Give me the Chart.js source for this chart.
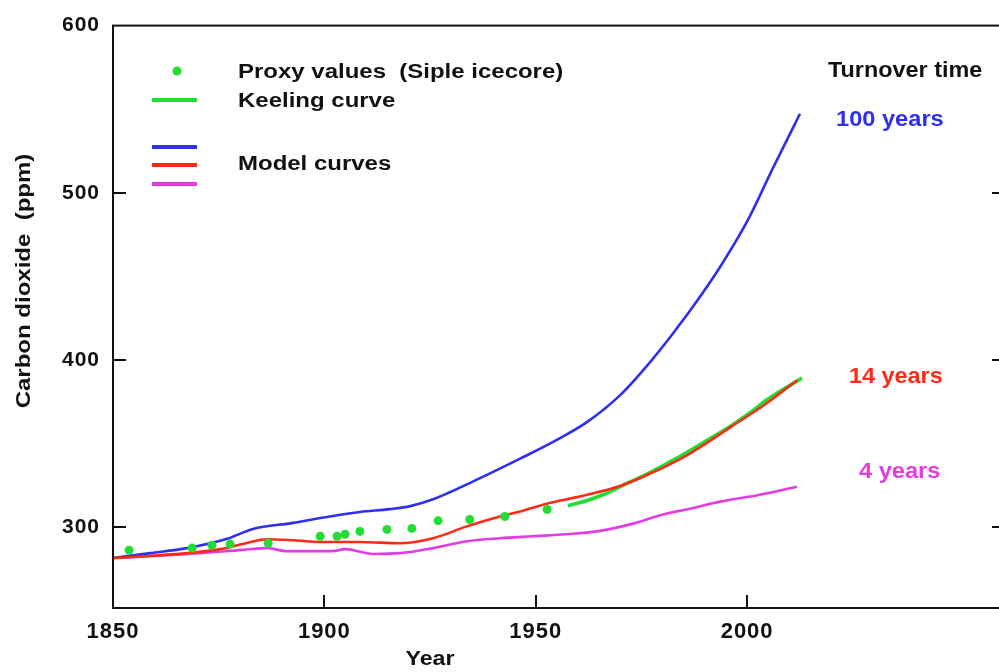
<!DOCTYPE html>
<html>
<head>
<meta charset="utf-8">
<title>Carbon dioxide and turnover time</title>
<script src="https://cdn.jsdelivr.net/npm/chart.js@4/dist/chart.umd.min.js"></script>
<style>
  html, body { margin: 0; padding: 0; background: #ffffff; overflow: hidden; }
  #wrap { width: 1010px; height: 672px; }
</style>
</head>
<body>
<div id="wrap"><canvas id="co2" width="1010" height="672"></canvas></div>
<script>
// Proxy values (Siple ice core)
const proxyYears = [1853.8, 1868.7, 1873.4, 1877.7, 1886.7, 1899.0, 1903.0, 1904.9, 1908.4, 1914.8, 1920.7, 1926.9, 1934.4, 1942.7, 1952.7];
const proxyCO2   = [286.4, 287.6, 289.3, 290.0, 290.5, 294.7, 294.7, 295.9, 297.6, 298.8, 299.4, 304.0, 304.7, 306.5, 310.7];

// Keeling curve (Mauna Loa)
const keelingYears = [1957.6, 1961.6, 1965.9, 1970.5, 1976.3, 1981.0, 1985.8, 1991.0, 1996.7, 2000.5, 2004.7, 2013.0];
const keelingCO2   = [313.0, 315.6, 319.5, 325.0, 331.9, 338.2, 344.9, 352.8, 361.5, 368.2, 376.3, 389.3];

// Model curve, turnover time 100 years
const model100Years = [1850, 1858.8, 1867.5, 1877.0, 1883.1, 1892.6, 1899.0, 1908.4, 1915.5, 1920.3, 1925.7, 1935.2, 1946.3, 1954.1, 1962.1, 1969.9, 1976.3, 1982.5, 1987.2, 1993.6, 2000.0, 2006.1, 2012.5];
const model100CO2   = [281.7, 284.6, 287.6, 293.2, 299.1, 302.7, 305.6, 309.2, 310.9, 312.7, 316.8, 327.5, 341.1, 351.1, 362.9, 378.9, 396.6, 416.1, 432.0, 455.7, 482.9, 514.8, 547.3];

// Model curve, turnover time 14 years
const model14Years = [1850, 1858.8, 1867.5, 1875.3, 1881.7, 1886.4, 1892.6, 1899.0, 1908.4, 1917.9, 1925.7, 1933.7, 1941.5, 1946.3, 1951.7, 1962.1, 1969.9, 1976.3, 1985.7, 1996.6, 2004.7, 2011.8];
const model14CO2   = [281.7, 282.9, 284.6, 287.0, 290.7, 292.9, 292.3, 291.3, 291.3, 290.5, 293.5, 300.6, 306.5, 309.5, 313.6, 319.5, 324.8, 331.3, 343.1, 360.8, 374.4, 388.0];

// Model curve, turnover time 4 years
const model4Years = [1850, 1870.6, 1880.0, 1886.4, 1891.2, 1902.0, 1904.9, 1911.5, 1917.9, 1925.7, 1933.7, 1941.5, 1949.3, 1957.2, 1964.5, 1972.3, 1980.1, 1986.5, 1993.6, 2003.0, 2011.8];
const model4CO2   = [281.7, 284.6, 286.4, 287.6, 285.8, 285.8, 287.0, 284.1, 284.6, 287.6, 291.7, 293.5, 294.7, 295.9, 297.6, 301.8, 307.7, 311.2, 315.4, 319.5, 324.3];

// Axis ticks
const xTickYears = [1850, 1900, 1950, 2000];
const yTickValues = [300, 400, 500, 600];

const BLUE = '#2f2ff2';
const RED = '#ff2a16';
const MAGENTA = '#e43ce4';
const GREEN = '#22dd33';
const FONT = '"Liberation Sans", Arial, Helvetica, sans-serif';

const pts = (xs, ys) => xs.map((x, i) => ({ x: x, y: ys[i] }));

// Draws a bold caption, optionally stretched horizontally
function caption(ctx, text, x, y, size, stretch, color, align, rotate) {
  ctx.save();
  ctx.translate(x, y);
  if (rotate) ctx.rotate(rotate);
  ctx.scale(stretch, 1);
  ctx.font = 'bold ' + size + 'px ' + FONT;
  ctx.fillStyle = color;
  ctx.textAlign = align || 'left';
  ctx.textBaseline = 'alphabetic';
  ctx.fillText(text, 0, 0);
  ctx.restore();
}

// Box frame with inward tick marks, legend and captions
const framePlugin = {
  id: 'frame',
  beforeDraw(chart) {
    chart.ctx.letterSpacing = '1px';
  },
  afterDraw(chart) {
    const ctx = chart.ctx;
    const a = chart.chartArea;
    const xs = chart.scales.x, ys = chart.scales.y;
    ctx.save();
    ctx.letterSpacing = '0px';
    ctx.strokeStyle = '#111111';
    ctx.lineWidth = 2;
    ctx.strokeRect(a.left, a.top, a.right - a.left, a.bottom - a.top);
    const tl = 13;
    ctx.beginPath();
    yTickValues.forEach(v => {
      const py = Math.round(ys.getPixelForValue(v));
      if (py > a.top + 2 && py < a.bottom - 2) {
        ctx.moveTo(a.left, py); ctx.lineTo(a.left + tl, py);
        ctx.moveTo(a.right, py); ctx.lineTo(a.right - tl, py);
      }
    });
    xTickYears.forEach(v => {
      const px = Math.round(xs.getPixelForValue(v));
      if (px > a.left + 2 && px < a.right - 2) {
        ctx.moveTo(px, a.bottom); ctx.lineTo(px, a.bottom - tl);
      }
    });
    ctx.stroke();
    ctx.restore();

    // Legend
    ctx.save();
    ctx.letterSpacing = '0px';
    ctx.fillStyle = GREEN;
    ctx.beginPath(); ctx.arc(177, 71, 4.5, 0, Math.PI * 2); ctx.fill();
    ctx.lineWidth = 4;
    [[GREEN, 100], [BLUE, 147], [RED, 165], [MAGENTA, 184]].forEach(([c, y]) => {
      ctx.strokeStyle = c;
      ctx.beginPath(); ctx.moveTo(152, y); ctx.lineTo(197, y); ctx.stroke();
    });
    caption(ctx, 'Proxy values  (Siple icecore)', 238, 77.5, 19.5, 1.23, '#111111');
    caption(ctx, 'Keeling curve', 238, 107, 19.5, 1.23, '#111111');
    caption(ctx, 'Model curves', 238, 169.5, 19.5, 1.23, '#111111');

    // Turnover time labels
    caption(ctx, 'Turnover time', 828, 77, 22.5, 1.04, '#111111');
    caption(ctx, '100 years', 836, 126, 22.5, 1.05, BLUE);
    caption(ctx, '14 years', 849, 383, 22.5, 1.04, RED);
    caption(ctx, '4 years', 859, 478, 22.5, 1.05, MAGENTA);

    // Axis titles
    caption(ctx, 'Year', 430, 665, 20, 1.16, '#111111', 'center');
    caption(ctx, 'Carbon dioxide  (ppm)', 30, 281, 20, 1.2, '#111111', 'center', -Math.PI / 2);
    ctx.restore();
  }
};

new Chart(document.getElementById('co2'), {
  type: 'line',
  data: {
    datasets: [
      { label: 'Proxy values (Siple icecore)', data: pts(proxyYears, proxyCO2), showLine: false,
        pointRadius: 4.5, pointBackgroundColor: GREEN, pointBorderWidth: 0, borderColor: GREEN },
      { label: '14 years', data: pts(model14Years, model14CO2), borderColor: RED, borderWidth: 2.6,
        pointRadius: 0, cubicInterpolationMode: 'monotone', fill: false },
      { label: 'Keeling curve', data: pts(keelingYears, keelingCO2), borderColor: GREEN, borderWidth: 3.6,
        pointRadius: 0, cubicInterpolationMode: 'monotone', fill: false },
      { label: '100 years', data: pts(model100Years, model100CO2), borderColor: BLUE, borderWidth: 2.6,
        pointRadius: 0, cubicInterpolationMode: 'monotone', fill: false },
      { label: '4 years', data: pts(model4Years, model4CO2), borderColor: MAGENTA, borderWidth: 2.6,
        pointRadius: 0, cubicInterpolationMode: 'monotone', fill: false }
    ]
  },
  options: {
    responsive: false,
    animation: false,
    devicePixelRatio: 1,
    layout: { padding: { top: 19, right: 5, bottom: 0, left: 0 } },
    plugins: { legend: { display: false }, tooltip: { enabled: false } },
    scales: {
      x: {
        type: 'linear', min: 1850, max: 2061,
        grid: { display: false, drawTicks: false }, border: { display: false },
        afterBuildTicks: s => { s.ticks = xTickYears.map(v => ({ value: v })); },
        afterFit: s => { s.height = 64; },
        ticks: { padding: 11, color: '#111111', font: { family: FONT, size: 22, weight: 'bold' },
                 maxRotation: 0, autoSkip: false, callback: v => String(v) }
      },
      y: {
        type: 'linear', min: 251.8, max: 600,
        grid: { display: false, drawTicks: false }, border: { display: false },
        afterBuildTicks: s => { s.ticks = yTickValues.map(v => ({ value: v })); },
        afterFit: s => { s.width = 113; },
        ticks: { padding: 13, color: '#111111', font: { family: FONT, size: 21, weight: 'bold' },
                 callback: v => String(v) }
      }
    }
  },
  plugins: [framePlugin]
});
</script>
</body>
</html>
